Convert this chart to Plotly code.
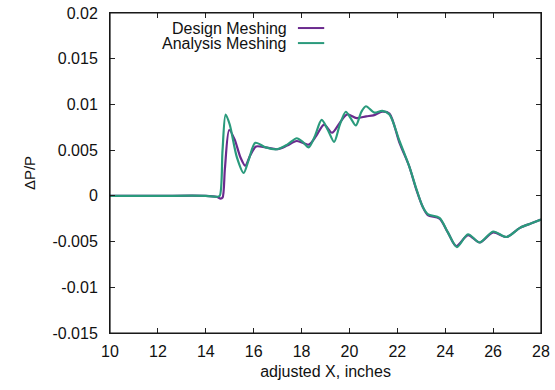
import plotly.graph_objects as go

# Design Meshing (purple)
design_x = [10, 12, 14, 14.45, 14.62, 14.7, 14.8, 14.98, 15.2, 15.45, 15.65, 15.85, 16.1, 16.5, 17.0,
            17.4, 17.8, 18.3, 18.6, 18.94, 19.27, 19.6, 19.9, 20.3, 20.7, 21.0, 21.37, 21.67,
            22.09, 22.5, 22.79, 23.06, 23.27, 23.76, 24.11, 24.46, 24.95, 25.44, 26.0, 26.56,
            27.12, 27.6, 28.0]
design_y = [0, 0, 0, -0.0001, -0.0003, -0.0002, 0.003, 0.0072, 0.0062, 0.0042, 0.0033, 0.0044, 0.0054,
            0.0053, 0.0051, 0.0055, 0.0060, 0.0056, 0.0065, 0.0078, 0.0069, 0.0080, 0.0089, 0.0085,
            0.0087, 0.0088, 0.0092, 0.0090, 0.0058, 0.0032, 0.0007, -0.0012, -0.0021, -0.0025,
            -0.0040, -0.0055, -0.0043, -0.0051, -0.0040, -0.0045, -0.0035, -0.0030, -0.0026]

# Analysis Meshing (green)
analysis_x = [10, 12, 14, 14.45, 14.58, 14.7, 14.83, 15.0, 15.3, 15.58, 15.8, 16.07, 16.5, 16.97,
              17.4, 17.8, 18.05, 18.3, 18.55, 18.84, 19.1, 19.36, 19.6, 19.85, 20.05, 20.27, 20.5,
              20.69, 21.04, 21.37, 21.67, 22.09, 22.5, 22.79, 23.06, 23.27, 23.76, 24.11, 24.49,
              24.95, 25.44, 26.0, 26.56, 27.12, 27.6, 28.0]
analysis_y = [0, 0, 0, -0.0001, 0.0, 0.0050, 0.0089, 0.0078, 0.0042, 0.0025, 0.0040, 0.0058, 0.0053,
              0.0051, 0.0056, 0.0063, 0.0059, 0.0053, 0.0065, 0.0083, 0.0072, 0.0059, 0.0078, 0.0092,
              0.0085, 0.0077, 0.0092, 0.0098, 0.0091, 0.0093, 0.0089, 0.0060, 0.0032, 0.0008,
              -0.0012, -0.0020, -0.0024, -0.0040, -0.0056, -0.0042, -0.0051, -0.0039, -0.0045,
              -0.0035, -0.0030, -0.0026]

series_names = ["Design Meshing", "Analysis Meshing"]
colors = ["#6b2a8e", "#2a9a7c"]

x_ticks = [10, 12, 14, 16, 18, 20, 22, 24, 26, 28]
y_ticks = [-0.015, -0.01, -0.005, 0, 0.005, 0.01, 0.015, 0.02]
y_tick_labels = ["-0.015", "-0.01", "-0.005", "0", "0.005", "0.01", "0.015", "0.02"]

fig = go.Figure()
for xs, ys, name, c in [(design_x, design_y, series_names[0], colors[0]),
                        (analysis_x, analysis_y, series_names[1], colors[1])]:
    fig.add_trace(go.Scatter(x=xs, y=ys, mode="lines", name=name,
                             line=dict(color=c, width=2.2, shape="spline", smoothing=0.8),
                             showlegend=False))

font = dict(family="Liberation Sans, Arial, sans-serif", size=16, color="#111111")

# gnuplot-style key: text right-aligned, sample line to the right
key_y = [0.953, 0.906]
for i, (name, c) in enumerate(zip(series_names, colors)):
    fig.add_annotation(xref="paper", yref="paper", x=0.413, y=key_y[i], text=name,
                       showarrow=False, xanchor="right", yanchor="middle", font=font,
                       borderpad=0)
    fig.add_shape(type="line", xref="paper", yref="paper", x0=0.436, x1=0.497,
                  y0=key_y[i], y1=key_y[i], line=dict(color=c, width=2))

# full frame around the plot area
fig.add_shape(type="rect", xref="paper", yref="paper", x0=0, x1=1, y0=0, y1=1,
              line=dict(color="#111111", width=1.2), layer="above")

axis_common = dict(showline=True, linecolor="#222222", linewidth=1, mirror="allticks",
                   ticks="inside", ticklen=5, tickcolor="#222222", showgrid=False,
                   zeroline=False, tickfont=font, automargin=False,
                   ticklabeloverflow="allow")

fig.update_layout(
    width=555, height=390,
    margin=dict(l=110, r=14, t=13, b=57),
    paper_bgcolor="white", plot_bgcolor="white",
    font=font,
    xaxis=dict(range=[10, 28], tickvals=x_ticks, ticklabelstandoff=4,
               title=dict(text="adjusted X, inches", font=font, standoff=6), **axis_common),
    yaxis=dict(range=[-0.015, 0.02], tickvals=y_ticks, ticktext=y_tick_labels,
               ticklabelstandoff=8,
               title=dict(text="ΔP/P", font=dict(family=font["family"], size=15, color="#111111"),
                          standoff=13), **axis_common),
)

# remove the browser's default 8px body margin so the figure fills the window exactly
fig.write_html("out.html", config={"displayModeBar": False},
               post_script="document.body.style.margin='0';document.body.style.overflow='hidden';")
